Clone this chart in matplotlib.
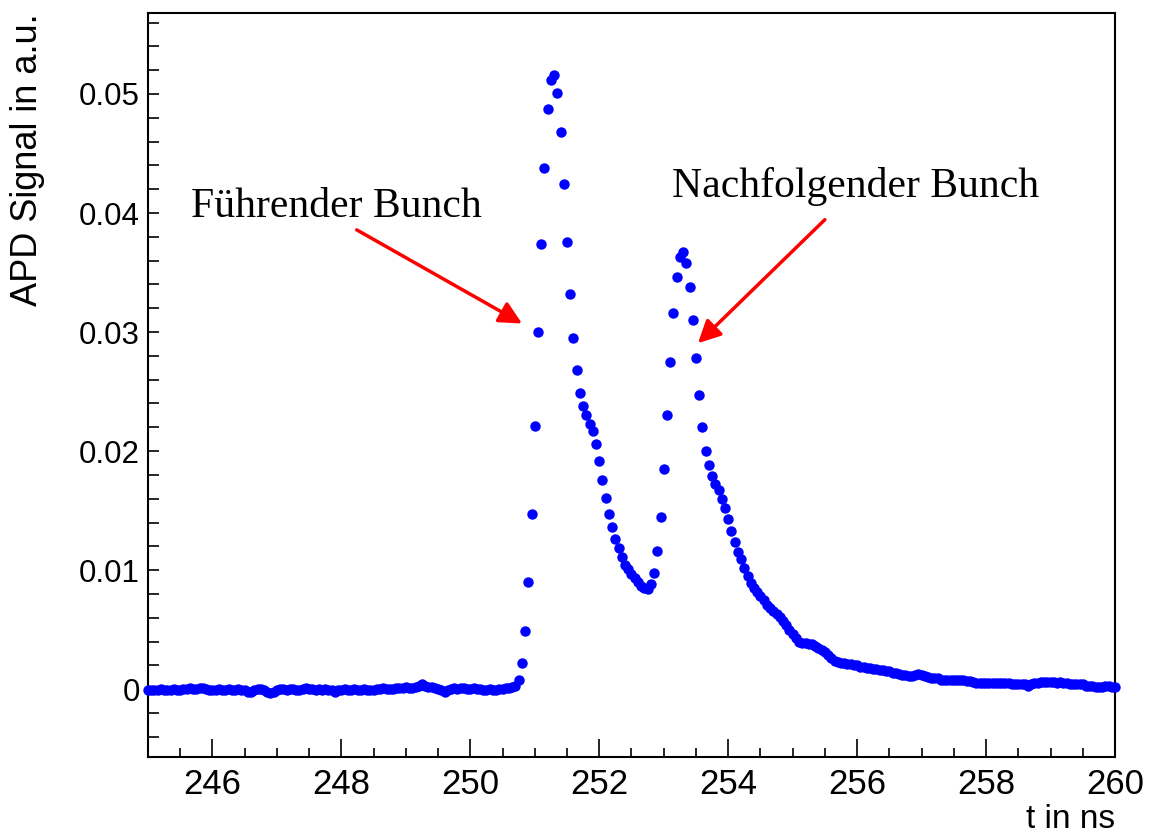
import numpy as np
import matplotlib.pyplot as plt
from matplotlib.ticker import MultipleLocator

# APD signal, sampled every 50 ps starting at 245 ns (one row = 0.5 ns)
t_start = 245.0
t_step = 0.05
signal = [
    -0.0001, -0.0001, -0.0001, -0.0001, 0.0000, -0.0001, -0.0001, -0.0001, 0.0000, -0.0001,
    -0.0001, 0.0000, 0.0000, 0.0001, 0.0000, 0.0000, 0.0001, 0.0001, 0.0000, -0.0001,
    -0.0001, -0.0001, 0.0000, -0.0001, -0.0001, 0.0000, -0.0001, -0.0001, 0.0000, -0.0001,
    -0.0001, -0.0002, -0.0002, -0.0001, 0.0000, 0.0000, -0.0001, -0.0002, -0.0003, -0.0002,
    -0.0001, 0.0000, 0.0000, -0.0001, 0.0000, 0.0000, -0.0001, -0.0001, 0.0000, 0.0001,
    0.0000, 0.0000, -0.0001, 0.0000, -0.0001, 0.0000, -0.0001, -0.0001, -0.0002, -0.0001,
    -0.0001, 0.0000, -0.0001, -0.0001, 0.0000, -0.0001, -0.0001, 0.0000, -0.0001, -0.0001,
    -0.0001, 0.0000, 0.0000, 0.0001, 0.0000, 0.0000, 0.0000, 0.0001, 0.0001, 0.0001,
    0.0002, 0.0001, 0.0001, 0.0002, 0.0003, 0.0004, 0.0003, 0.0002, 0.0002, 0.0001,
    0.0000, -0.0001, -0.0002, -0.0001, 0.0000, 0.0001, 0.0000, 0.0001, 0.0001, 0.0000,
    0.0000, 0.0001, 0.0000, 0.0000, -0.0001, -0.0001, 0.0000, -0.0001, -0.0001, 0.0000,
    0.0000, 0.0001, 0.0001, 0.0002, 0.0003, 0.0008, 0.0022, 0.0049, 0.0090, 0.0147,
    0.0221, 0.0300, 0.0374, 0.0438, 0.0487, 0.0512, 0.0516, 0.0501, 0.0468, 0.0424,
    0.0376, 0.0332, 0.0295, 0.0268, 0.0249, 0.0238, 0.0230, 0.0223, 0.0217, 0.0206,
    0.0192, 0.0176, 0.0161, 0.0147, 0.0136, 0.0126, 0.0119, 0.0111, 0.0104, 0.0101,
    0.0097, 0.0093, 0.0090, 0.0087, 0.0085, 0.0084, 0.0088, 0.0098, 0.0116, 0.0145,
    0.0185, 0.0230, 0.0275, 0.0316, 0.0346, 0.0363, 0.0367, 0.0358, 0.0338, 0.0310,
    0.0278, 0.0247, 0.0220, 0.0200, 0.0188, 0.0179, 0.0172, 0.0167, 0.0160, 0.0152,
    0.0143, 0.0133, 0.0124, 0.0115, 0.0109, 0.0102, 0.0095, 0.0089, 0.0085, 0.0082,
    0.0078, 0.0075, 0.0071, 0.0068, 0.0066, 0.0063, 0.0061, 0.0057, 0.0054, 0.0050,
    0.0046, 0.0043, 0.0040, 0.0039, 0.0039, 0.0038, 0.0038, 0.0036, 0.0035, 0.0033,
    0.0031, 0.0029, 0.0026, 0.0024, 0.0023, 0.0022, 0.0022, 0.0021, 0.0021, 0.0020,
    0.0020, 0.0019, 0.0019, 0.0018, 0.0018, 0.0017, 0.0017, 0.0016, 0.0016, 0.0015,
    0.0015, 0.0014, 0.0014, 0.0013, 0.0012, 0.0012, 0.0011, 0.0011, 0.0012, 0.0013,
    0.0012, 0.0011, 0.0010, 0.0009, 0.0009, 0.0009, 0.0008, 0.0008, 0.0008, 0.0008,
    0.0008, 0.0008, 0.0008, 0.0008, 0.0007, 0.0007, 0.0006, 0.0005, 0.0005, 0.0005,
    0.0005, 0.0005, 0.0005, 0.0005, 0.0005, 0.0005, 0.0005, 0.0005, 0.0004, 0.0004,
    0.0004, 0.0004, 0.0004, 0.0003, 0.0004, 0.0005, 0.0005, 0.0006, 0.0006, 0.0006,
    0.0006, 0.0006, 0.0005, 0.0006, 0.0005, 0.0005, 0.0004, 0.0004, 0.0004, 0.0004,
    0.0004, 0.0003, 0.0003, 0.0003, 0.0002, 0.0002, 0.0002, 0.0003, 0.0003, 0.0002,
    0.0002,
]

# arrow (tip, tail) and label positions in data coordinates
labels = ["Führender Bunch", "Nachfolgender Bunch"]
label_pos = [(247.92, 0.0405), (255.98, 0.0422)]
arrow_tip = [(250.84, 0.0306), (253.50, 0.0289)]
arrow_tail = [(248.20, 0.0387), (255.53, 0.0396)]

t = t_start + t_step * np.arange(len(signal))

sans = ['Liberation Sans', 'DejaVu Sans']

fig = plt.figure(figsize=(11.49, 8.34), dpi=100)
ax = fig.add_axes([0.1288, 0.0923, 0.9704 - 0.1288, 0.9844 - 0.0923])

ax.plot(t, signal, 'o', color='#0000ff', markersize=7.5, markeredgewidth=0, clip_on=False, zorder=3)

ax.set_xlim(245, 260)
ax.set_ylim(-0.0057, 0.0568)

ax.xaxis.set_major_locator(MultipleLocator(2))
ax.xaxis.set_minor_locator(MultipleLocator(0.5))
ax.yaxis.set_major_locator(MultipleLocator(0.01))
ax.yaxis.set_minor_locator(MultipleLocator(0.002))
ax.tick_params(axis='both', which='both', direction='in', top=False, right=False, width=1.2)
ax.tick_params(axis='x', which='major', length=13, pad=8)
ax.tick_params(axis='x', which='minor', length=6.5)
ax.tick_params(axis='y', which='major', length=8, pad=6)
ax.tick_params(axis='y', which='minor', length=8)

ax.set_yticks([0, 0.01, 0.02, 0.03, 0.04, 0.05])
ax.set_yticklabels(['0', '0.01', '0.02', '0.03', '0.04', '0.05'], fontsize=22.5, family=sans)
ax.set_xticks([246, 248, 250, 252, 254, 256, 258, 260])
ax.set_xticklabels(['246', '248', '250', '252', '254', '256', '258', '260'], fontsize=25, family=sans)

for s in ax.spines.values():
    s.set_linewidth(1.5)

ax.set_ylabel('APD Signal in a.u.', fontsize=26, family=sans, loc='top', labelpad=24)
ax.set_xlabel('t in ns', fontsize=24, family=sans, loc='right', labelpad=2)

for txt, pos, tip, tail in zip(labels, label_pos, arrow_tip, arrow_tail):
    ax.text(pos[0], pos[1], txt, fontsize=30, family='Liberation Serif', ha='center', va='center')
    ax.annotate('', xy=tip, xytext=tail,
                arrowprops=dict(arrowstyle='-|>', color='red', lw=2.5, mutation_scale=34))

fig.savefig('out.png', dpi=100)
